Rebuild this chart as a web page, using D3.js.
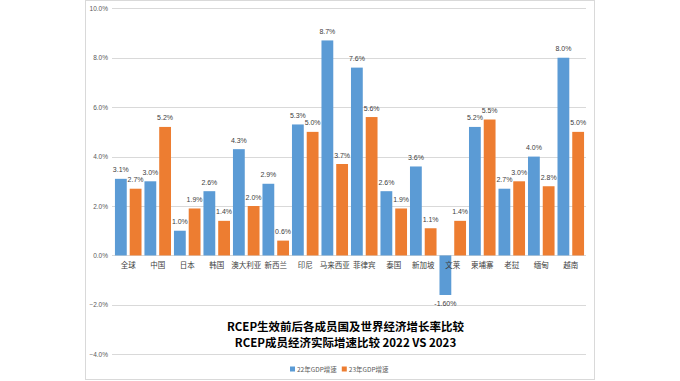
<!DOCTYPE html>
<html><head><meta charset="utf-8">
<script src="https://cdn.jsdelivr.net/npm/d3@7"></script>
<style>
html,body{margin:0;padding:0;background:#fff;}
svg{display:block;font-family:"Noto Sans CJK SC","Noto Sans",sans-serif;}
</style></head>
<body><svg id="c" width="680" height="381"></svg>
<script>
const categories = ["全球","中国","日本","韩国","澳大利亚","新西兰","印尼","马来西亚","菲律宾","泰国","新加坡","文莱","柬埔寨","老挝","缅甸","越南"];
const gdp2022 = [3.1,3.0,1.0,2.6,4.3,2.9,5.3,8.7,7.6,2.6,3.6,-1.6,5.2,2.7,4.0,8.0];
const gdp2023 = [2.7,5.2,1.9,1.4,2.0,0.6,5.0,3.7,5.6,1.9,1.1,1.4,5.5,3.0,2.8,5.0];
const label2022 = ["3.1%","3.0%","1.0%","2.6%","4.3%","2.9%","5.3%","8.7%","7.6%","2.6%","3.6%","-1.60%","5.2%","2.7%","4.0%","8.0%"];
const label2023 = ["2.7%","5.2%","1.9%","1.4%","2.0%","0.6%","5.0%","3.7%","5.6%","1.9%","1.1%","1.4%","5.5%","3.0%","2.8%","5.0%"];
const seriesNames = ["22年GDP增速","23年GDP增速"];
const seriesColors = ["#5B9BD5","#ED7D31"];
const yTicks = [-4,-2,0,2,4,6,8,10];
const titleLines = ["RCEP生效前后各成员国及世界经济增长率比较","RCEP成员经济实际增速比较 2022 VS 2023"];

const svg = d3.select("#c");
// frame
svg.append("rect").attr("x",85.5).attr("y",0.5).attr("width",509).attr("height",379)
  .attr("fill","#fff").attr("stroke","#D9D9D9").attr("stroke-width",1);

const x0 = d3.scaleBand().domain(categories).range([112,587]).paddingInner(0.1).paddingOuter(0.1);
const x1 = d3.scaleBand().domain([0,1]).range([0,x0.bandwidth()]).paddingInner(0.2);
const y = d3.scaleLinear().domain([-4,10]).range([354.3,8.3]);

// gridlines + y labels
const yAxis = d3.axisLeft(y).tickValues(yTicks).tickSize(0).tickPadding(4)
  .tickFormat(d=>d3.format(".1f")(d)+"%");
const ga = svg.append("g").attr("transform","translate(108,0)").call(yAxis);
ga.select(".domain").remove();
ga.selectAll("text").attr("font-size",6.5).attr("fill","#595959").attr("x",0)
  .attr("font-family","'Liberation Sans',sans-serif");
svg.append("g").selectAll("line").data(yTicks).join("line")
  .attr("x1",112).attr("x2",586).attr("y1",d=>Math.round(y(d))+0.5).attr("y2",d=>Math.round(y(d))+0.5)
  .attr("stroke","#D9D9D9").attr("stroke-width",1);

const data = categories.map((c,i)=>({c, vals:[gdp2022[i],gdp2023[i]], labels:[label2022[i],label2023[i]]}));

const groups = svg.append("g").selectAll("g").data(data).join("g")
  .attr("transform",d=>`translate(${x0(d.c)},0)`);
groups.selectAll("rect").data(d=>d.vals.map((v,k)=>({v,k}))).join("rect")
  .attr("x",d=>x1(d.k)).attr("width",x1.bandwidth())
  .attr("y",d=>y(Math.max(0,d.v))).attr("height",d=>Math.abs(y(d.v)-y(0)))
  .attr("fill",d=>seriesColors[d.k]);
groups.selectAll("text.v").data(d=>d.vals.map((v,k)=>({v,k,l:d.labels[k]}))).join("text")
  .attr("class","v")
  .attr("x",d=>x1(d.k)+x1.bandwidth()/2)
  .attr("y",d=>d.v>=0 ? y(d.v)-6.5 : y(d.v)+11.5)
  .attr("text-anchor","middle").attr("font-size",7).attr("fill","#404040")
  .attr("font-family","'Liberation Sans',sans-serif")
  .text(d=>d.l);

// category labels
svg.append("g").selectAll("text").data(categories).join("text")
  .attr("x",d=>x0(d)+x0.bandwidth()/2).attr("y",268)
  .attr("text-anchor","middle").attr("font-size",7.5).attr("fill","#404040").text(d=>d);

// title
svg.append("g").selectAll("text").data(titleLines).join("text")
  .attr("x",345.5).attr("y",(d,i)=>330.5+i*16.8)
  .attr("text-anchor","middle").attr("font-size",11.5).attr("font-weight","bold").attr("fill","#000")
  .text(d=>d);

// legend
const lg = svg.append("g");
let lx = 290;
seriesNames.forEach((n,i)=>{
  lg.append("rect").attr("x",lx).attr("y",366.5).attr("width",5).attr("height",5).attr("fill",seriesColors[i]);
  const t = lg.append("text").attr("x",lx+7).attr("y",371.5).attr("font-size",6.5).attr("fill","#595959").text(n);
  lx += 7 + t.node().getComputedTextLength() + 5;
});
</script></body></html>
